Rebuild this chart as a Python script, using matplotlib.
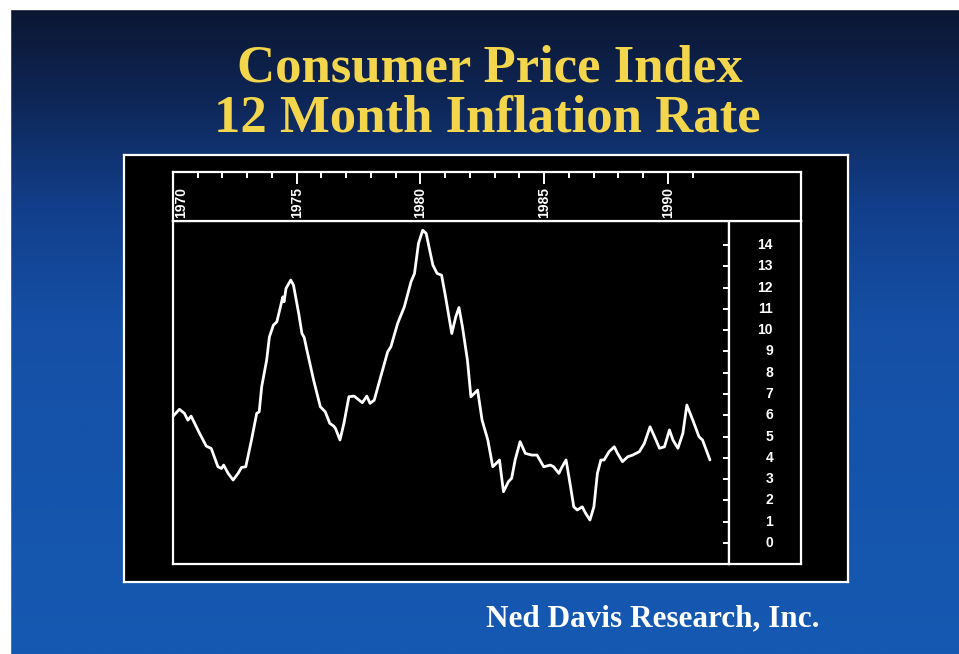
import numpy as np
import matplotlib
matplotlib.use("Agg")
import matplotlib.pyplot as plt
from matplotlib.patches import Rectangle
from matplotlib.colors import LinearSegmentedColormap
import matplotlib.transforms as mtransforms

# ---------------- data ----------------
years = [1970.00, 1970.34, 1970.54, 1970.68, 1970.81, 1971.15, 1971.42, 1971.62, 1971.89, 1972.03,
         1972.12, 1972.30, 1972.50, 1972.70, 1972.84, 1973.01, 1973.24, 1973.45, 1973.55, 1973.65,
         1973.85, 1973.96, 1974.12, 1974.26, 1974.39, 1974.50, 1974.55, 1974.63, 1974.82, 1974.93,
         1975.14, 1975.27, 1975.36, 1975.47, 1975.74, 1976.01, 1976.21, 1976.39, 1976.55, 1976.62,
         1976.80, 1976.96, 1977.16, 1977.37, 1977.57, 1977.70, 1977.88, 1978.01, 1978.18, 1978.44,
         1978.72, 1978.85, 1979.12, 1979.39, 1979.66, 1979.80, 1979.96, 1980.13, 1980.27, 1980.41,
         1980.54, 1980.71, 1980.89, 1981.05, 1981.30, 1981.46, 1981.59, 1981.73, 1981.93, 1982.07,
         1982.21, 1982.34, 1982.52, 1982.75, 1982.95, 1983.09, 1983.22, 1983.38, 1983.58, 1983.71,
         1983.85, 1984.05, 1984.26, 1984.52, 1984.73, 1985.00, 1985.27, 1985.40, 1985.61, 1985.74,
         1985.90, 1986.08, 1986.21, 1986.35, 1986.55, 1986.69, 1986.86, 1987.02, 1987.16, 1987.30,
         1987.43, 1987.63, 1987.84, 1987.97, 1988.17, 1988.38, 1988.58, 1988.85, 1989.05, 1989.28,
         1989.46, 1989.66, 1989.86, 1990.06, 1990.20, 1990.40, 1990.60, 1990.76, 1991.00, 1991.25,
         1991.39, 1991.69]
cpi_yoy = [5.85, 6.28, 6.09, 5.77, 5.96, 5.15, 4.55, 4.44, 3.58, 3.50,
           3.66, 3.27, 2.96, 3.27, 3.55, 3.58, 4.84, 6.09, 6.16, 7.34,
           8.59, 9.68, 10.23, 10.39, 11.02, 11.56, 11.33, 11.96, 12.35, 12.11,
           10.78, 9.84, 9.66, 9.06, 7.65, 6.40, 6.16, 5.62, 5.49, 5.38,
           4.84, 5.62, 6.87, 6.90, 6.71, 6.59, 6.90, 6.56, 6.71, 7.81,
           8.98, 9.22, 10.31, 11.09, 12.27, 12.66, 14.07, 14.69, 14.54, 13.76,
           13.05, 12.66, 12.58, 11.56, 9.84, 10.62, 11.06, 10.15, 8.59, 6.87,
           7.03, 7.18, 5.77, 4.84, 3.58, 3.74, 3.90, 2.41, 2.88, 3.04,
           3.90, 4.76, 4.21, 4.13, 4.13, 3.58, 3.66, 3.58, 3.27, 3.58,
           3.90, 2.64, 1.70, 1.55, 1.70, 1.39, 1.08, 1.70, 3.27, 3.90,
           3.90, 4.29, 4.52, 4.21, 3.82, 4.05, 4.13, 4.29, 4.68, 5.46,
           4.99, 4.45, 4.52, 5.31, 4.84, 4.45, 5.15, 6.48, 5.77, 4.99,
           4.84, 3.90]
year_ticks = [1970, 1975, 1980, 1985, 1990]
year_minor = list(range(1970, 1992))
year_labels = ["1970", "1975", "1980", "1985", "1990"]
rate_ticks = list(range(0, 15))
rate_labels = [str(v) for v in rate_ticks]

title_line1 = "Consumer Price Index"
title_line2 = "12 Month Inflation Rate"
footer = "Ned Davis Research, Inc."

# ---------------- figure ----------------
W, H = 959, 654
fig = plt.figure(figsize=(W / 100, H / 100), dpi=100)


def rect(x0, y0, x1, y1):
    """pixel box (top-left origin) -> figure fraction [l, b, w, h]"""
    return [x0 / W, 1 - y1 / H, (x1 - x0) / W, (y1 - y0) / H]


# gradient background
bg = fig.add_axes([0, 0, 1, 1])
bg.set_axis_off()
cmap = LinearSegmentedColormap.from_list(
    "bg", [(0.0, "#0b152e"), (0.15, "#0e2656"), (0.32, "#123f8c"),
           (0.5, "#1550a6"), (1.0, "#1559b2")])
grad = np.linspace(0, 1, 256).reshape(-1, 1)
bg.imshow(grad, aspect="auto", cmap=cmap, extent=[0, 1, 0, 1], origin="upper")
bg.set_xlim(0, 1)
bg.set_ylim(0, 1)
# white edges of the scanned slide
bg.add_patch(Rectangle((0, 1 - 9 / H), 1, 9 / H, color="white", transform=bg.transAxes, zorder=3))
bg.add_patch(Rectangle((0, 0), 10 / W, 1, color="white", transform=bg.transAxes, zorder=3))

# black panel
panel = fig.add_axes(rect(124, 155, 848, 582))
panel.set_facecolor("black")
panel.set_xticks([])
panel.set_yticks([])
for s in panel.spines.values():
    s.set_color("white")
    s.set_linewidth(1.6)

FR = 1.6  # frame line width

# main plotting area
L, R, RP, T, MID, B = 173, 729, 801, 172, 221, 564
px_per_year = 24.67
x0 = 1970 - (L - 175) / px_per_year
x_main_max = 1970 + (R - 175) / px_per_year
x_band_max = 1970 + (RP - 175) / px_per_year
px_per_unit = 21.29
y_lo = -(B - 543) / px_per_unit
y_hi = (543 - MID) / px_per_unit

ax = fig.add_axes(rect(L, MID, R, B))
ax.set_facecolor("black")
ax.plot(years, cpi_yoy, color="white", lw=2.0, solid_joinstyle="round", solid_capstyle="round")
ax.set_xlim(x0, x_main_max)
ax.set_ylim(y_lo, y_hi)
ax.set_xticks([])
ax.yaxis.tick_right()
ax.set_yticks(rate_ticks)
ax.tick_params(axis="y", direction="in", length=4.5, width=1.4, color="white",
               labelright=False, labelleft=False)
for s in ax.spines.values():
    s.set_color("white")
    s.set_linewidth(FR)

# right label panel
axr = fig.add_axes(rect(R, MID, RP, B), sharey=ax)
axr.set_facecolor("black")
axr.set_xticks([])
axr.tick_params(axis="y", left=False, right=False, labelleft=False, labelright=False)
for s in axr.spines.values():
    s.set_color("white")
    s.set_linewidth(FR)
trans_r = mtransforms.blended_transform_factory(axr.transAxes, axr.transData)
for v, lab in zip(rate_ticks, rate_labels):
    axr.text((773 - R) / (RP - R), v, lab, transform=trans_r, ha="right", va="center",
             color="white", fontsize=10, fontweight="bold", family="Liberation Sans")

# top band with year ticks
band = fig.add_axes(rect(L, T, RP, MID))
band.set_facecolor("black")
band.set_xlim(x0, x_band_max)
band.set_ylim(0, 1)
band.set_yticks([])
band.xaxis.tick_top()
band.set_xticks(year_ticks)
band.set_xticks(year_minor, minor=True)
band.tick_params(axis="x", which="major", direction="in", length=8.5, width=1.4,
                 color="white", labeltop=False, labelbottom=False)
band.tick_params(axis="x", which="minor", direction="in", length=4.3, width=1.4,
                 color="white")
for s in band.spines.values():
    s.set_color("white")
    s.set_linewidth(FR)
trans_b = mtransforms.blended_transform_factory(band.transData, band.transAxes)
for yr, lab in zip(year_ticks, year_labels):
    off = 8 / px_per_year if yr == year_ticks[0] else 0
    band.text(yr + off, (MID - 218) / (MID - T), lab, transform=trans_b, rotation=90,
              ha="center", va="bottom", color="white", fontsize=10, fontweight="bold",
              family="Liberation Sans")

# titles
tcol = "#f3d64c"
fig.text(490 / W, 1 - 82 / H, title_line1, ha="center", va="baseline", color=tcol,
         fontsize=38, fontweight="bold", family="Liberation Serif")
fig.text(487 / W, 1 - 132 / H, title_line2, ha="center", va="baseline", color=tcol,
         fontsize=38, fontweight="bold", family="Liberation Serif")
fig.text(653 / W, 1 - 626 / H, footer, ha="center", va="baseline", color="white",
         fontsize=22.5, fontweight="bold", family="Liberation Serif")

fig.savefig("out.png", dpi=100)
